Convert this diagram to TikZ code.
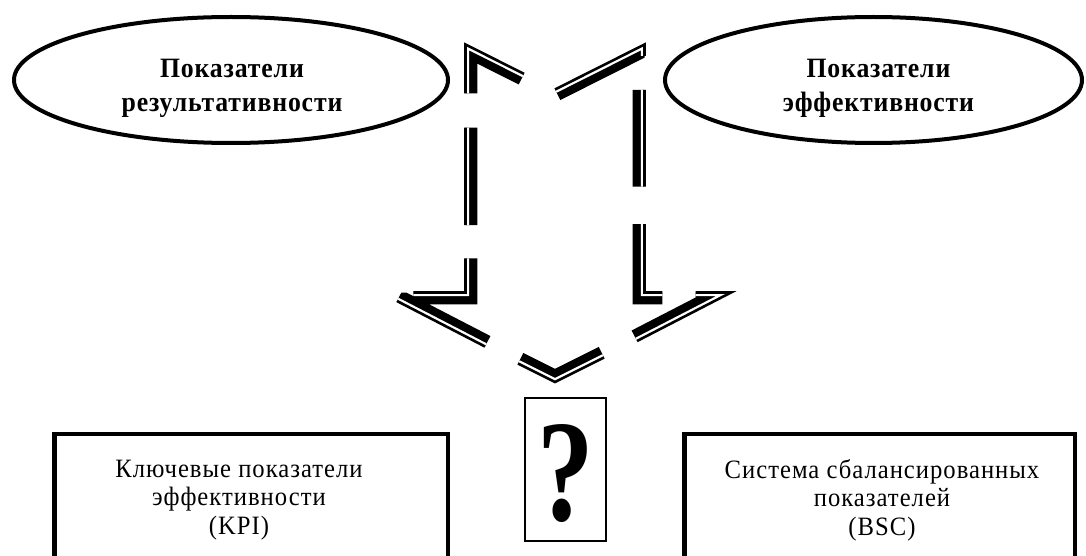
\documentclass[tikz,border=0pt]{standalone}
\usepackage{fontspec}
\setmainfont{Liberation Serif}
\usetikzlibrary{shapes.geometric}
\newcommand\ArrowDashes[1]{%
  \draw[#1]
    (465.5,93.3) -- (P1) -- (524,73.9)
    (P2) -- (P3) -- (644.5,56)
    (644.5,90) -- (644.5,186.7)
    (644.5,224) -- (P4) -- (662.3,292.5)
    (695.7,292.5) -- (P5) -- (637,341)
    (604,357.5) -- (P6) -- (518,363.5)
    (485,346.5) -- (397,301)
    (413.3,292.5) -- (P8) -- (465.5,258.3)
    (465.5,225) -- (465.5,127.7);}
\begin{document}
\begin{tikzpicture}[x=1pt,y=-1pt,
  ellshape/.style={draw, ellipse, line width=4pt, inner sep=0pt},
  elltext/.style={align=center, inner sep=0pt,
    font=\fontsize{28}{34}\selectfont\bfseries\addfontfeature{FakeStretch=0.92,LetterSpace=3}},
  boxshape/.style={draw, rectangle, line width=4.5pt, inner sep=0pt},
  boxtext/.style={align=center, inner sep=0pt,
    font=\fontsize{26.5}{28.5}\selectfont\addfontfeature{FakeStretch=0.93,LetterSpace=3.8}},
  qshape/.style={draw, rectangle, line width=2pt, inner sep=0pt},
  qmark/.style={inner sep=0pt, font=\fontsize{145}{145}\selectfont\bfseries},
  thickband/.style={line width=23.6pt, line join=miter, line cap=butt},
  whiteband/.style={white, line width=7.2pt, line join=miter, line cap=butt},
  thinband/.style={line width=2.6pt, line join=miter, line cap=butt},
]
\useasboundingbox (0,0) rectangle (1086,556);
\fill[white] (0,0) rectangle (1086,556);

% ellipses
\node[ellshape, minimum width=434pt, minimum height=126pt] (ellL) at (231,80) {};
\node[ellshape, minimum width=417pt, minimum height=126pt] (ellR) at (873.5,80) {};
\node[elltext] (txtL) at (232,88.8) {Показатели\\результативности};
\node[elltext] (txtR) at (878.5,88.8) {Показатели\\эффективности};

% bottom boxes
\node[boxshape, minimum width=393.5pt, minimum height=166pt] (boxL) at (251.25,517) {};
\node[boxshape, minimum width=390.5pt, minimum height=166pt] (boxR) at (879.75,517) {};
\node[boxtext] (txtKPI) at (239,500.1) {Ключевые показатели\\эффективности\\(KPI)};
\node[boxtext] (txtBSC) at (882,500.1) {Система сбалансированных\\показателей\\(BSC)};

% question box
\node[qshape, minimum width=81pt, minimum height=143pt] (qbox) at (565.5,469.5) {};
\node[qmark] (qm) at (565.5,474) {\scalebox{0.78}[1]{?}};

% big dashed arrow (thick-thin compound line)
\coordinate (P1) at (465.5,44.5);
\coordinate (P2) at (555,89.5);
\coordinate (P3) at (644.5,44.5);
\coordinate (P4) at (644.5,292.5);
\coordinate (P5) at (731,292.5);
\coordinate (P6) at (555,382);
\coordinate (P7) at (379,292.5);
\coordinate (P8) at (465.5,292.5);
\begin{scope}
  \clip (P1) -- (P2) -- (P3) -- (P4) -- (P5) -- (P6) -- (P7) -- (P8) -- cycle;
  \ArrowDashes{thickband}
  \ArrowDashes{whiteband}
\end{scope}
\ArrowDashes{thinband}
\end{tikzpicture}
\end{document}
